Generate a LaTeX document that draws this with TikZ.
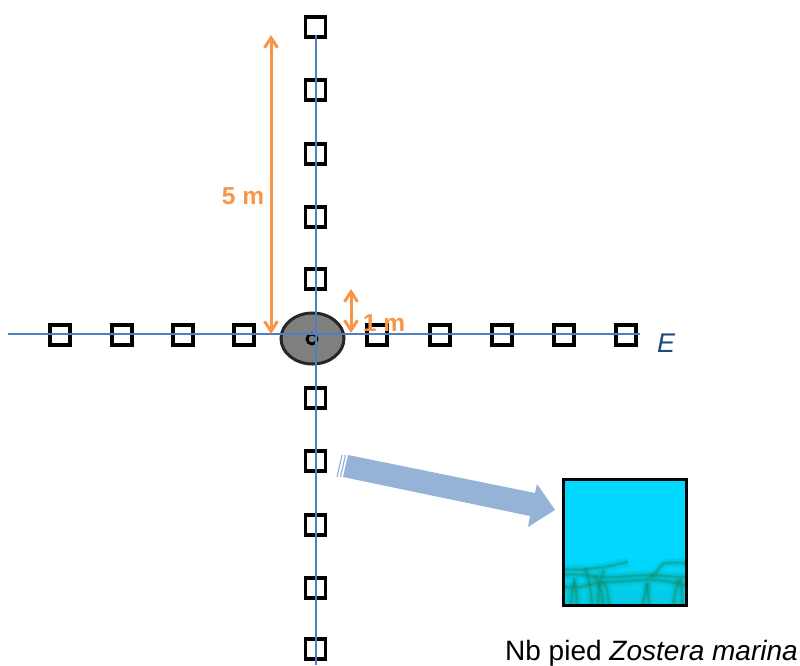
\documentclass[tikz,border=0pt]{standalone}
\usepackage{fontspec}
\setmainfont{Liberation Sans}
\usetikzlibrary{arrows.meta}
\usetikzlibrary{shapes.geometric}
\definecolor{axe}{RGB}{75, 128, 198}
\definecolor{oo}{RGB}{247, 150, 70}
\definecolor{gg}{RGB}{127, 127, 127}
\definecolor{dd}{RGB}{38, 38, 38}
\definecolor{bb}{RGB}{149, 179, 215}
\definecolor{ee}{RGB}{31, 73, 125}
\definecolor{eau}{RGB}{0, 216, 255}
\definecolor{herbe}{RGB}{15, 140, 105}
\tikzset{
	quadrat/.style={rectangle, minimum size=20pt, line width=3.6pt, draw=black},
	axis/.style={line width=1.2pt, color=axe},
	mesure/.style={line width=3pt, color=oo, {Straight Barb[length=10pt,width=13pt,line width=3pt]}-{Straight Barb[length=10pt,width=13pt,line width=3pt]}},
	cote/.style={color=oo, font=\fontsize{24.5}{24.5}\selectfont\bfseries},
	herbes/.style={line width=1.2pt, color=herbe, opacity=0.4, preaction={draw, line width=4pt, color=herbe, opacity=0.25}, preaction={draw, line width=9pt, color=herbe, opacity=0.12}}
}
\begin{document}
\begin{tikzpicture}
			[x=1pt,y=-1pt,every node/.style={inner sep=0pt}]
			\useasboundingbox (0,0) rectangle (800,665);
			% left branch
			\node (w4) [quadrat] at (60, 335)  {};
			\node (w3) [quadrat] at (122, 335)  {};
			\node (w2) [quadrat] at (183, 335)  {};
			\node (w1) [quadrat] at (244, 335)  {};
			% right branch
			\node (e1) [quadrat] at (377, 335)  {};
			\node (e2) [quadrat] at (440, 335)  {};
			\node (e3) [quadrat] at (502, 335)  {};
			\node (e4) [quadrat] at (564, 335)  {};
			\node (e5) [quadrat] at (626, 335)  {};
			% upper branch
			\node (n5) [quadrat] at (315.5, 27)  {};
			\node (n4) [quadrat] at (315.5, 90)  {};
			\node (n3) [quadrat] at (315.5, 154)  {};
			\node (n2) [quadrat] at (315.5, 217)  {};
			\node (n1) [quadrat] at (315.5, 279)  {};
			% lower branch
			\node (s1) [quadrat] at (315.5, 398)  {};
			\node (s2) [quadrat] at (315.5, 461)  {};
			\node (s3) [quadrat] at (315.5, 525)  {};
			\node (s4) [quadrat] at (315.5, 588)  {};
			\node (s5) [quadrat] at (315.5, 649)  {};
			% centre
			\node (0) [ellipse, minimum width=63pt, minimum height=51pt, fill=gg, line width=3pt, draw=dd] at (312.5, 338.5)  {};
			\node (p) [circle, minimum size=10pt, line width=2.8pt, draw=black] at (312, 339)  {};
			% transects
			\coordinate (ax1) at (8, 334);
			\coordinate (ax2) at (640, 334);
			\coordinate (ax3) at (316, 35);
			\coordinate (ax4) at (316, 665);
			\draw [axis] (ax1) to (ax2);
			\draw [axis] (ax3) to (ax4);
			\node (E) [color=ee, font=\fontsize{27}{27}\selectfont\itshape] at (666, 343) {E};
			% distances
			\coordinate (d1) at (271, 35);
			\coordinate (d2) at (271, 334);
			\coordinate (d3) at (351, 289);
			\coordinate (d4) at (351, 333);
			\draw [mesure] (d1) to (d2);
			\draw [mesure] (d3) to (d4);
			\node (l5) [cote] at (243, 196) {5 m};
			\node (l1) [cote] at (384, 323) {1 m};
			% arrow towards the quadrat
			\fill [color=bb] (348, 455) -- (535, 493) -- (537, 484) -- (555, 510) -- (528, 527) -- (530, 516) -- (343, 477) -- cycle;
			\draw [color=bb, line width=1.2pt] (342, 455) -- (337, 477) (345.5, 455) -- (340.5, 477);
			% water and seagrass
			\fill [color=eau] (564, 480) rectangle (686, 605);
			\begin{scope}
				\clip (564, 480) rectangle (686, 605);
				\shade [top color=eau, bottom color=eau!82!herbe] (564, 556) rectangle (686, 605);
				% blades lying across
				\draw [herbes] (564, 569) to[out=-5,in=185] (597, 568) to[out=5,in=190] (628, 562);
				\draw [herbes] (565, 575) to[out=5,in=180] (607, 577) to[out=0,in=180] (650, 575) to[out=0,in=180] (686, 577);
				\draw [herbes] (565, 587) to[out=-10,in=180] (607, 582) to[out=0,in=180] (650, 580) to[out=0,in=170] (686, 585);
				\draw [herbes] (650, 575) to[out=-60,in=185] (666, 563) to[out=5,in=180] (686, 563);
				% blades standing up
				\draw [herbes] (571, 604) to[out=90,in=-100] (575, 578);
				\draw [herbes] (577, 604) to[out=85,in=-80] (574, 582);
				\draw [herbes] (592, 604) to[out=95,in=-70] (585, 568);
				\draw [herbes] (598, 604) to[out=90,in=-110] (604, 570);
				\draw [herbes] (603, 604) to[out=95,in=-60] (594, 575);
				\draw [herbes] (609, 604) to[out=100,in=-50] (603, 582);
				\draw [herbes] (643, 604) to[out=85,in=-100] (648, 582);
				\draw [herbes] (649, 604) to[out=95,in=-80] (647, 584);
				\draw [herbes] (674, 604) to[out=90,in=-100] (678, 580);
				\draw [herbes] (682, 604) to[out=90,in=-80] (680, 578);
			\end{scope}
			\node (q) [rectangle, minimum width=123pt, minimum height=126pt, line width=3pt, draw=black] at (625, 542.5)  {};
			\node (t) [font=\fontsize{28}{28}\selectfont, anchor=base west] at (505, 660) {Nb pied \textit{Zostera marina}};
		\end{tikzpicture}
\end{document}
